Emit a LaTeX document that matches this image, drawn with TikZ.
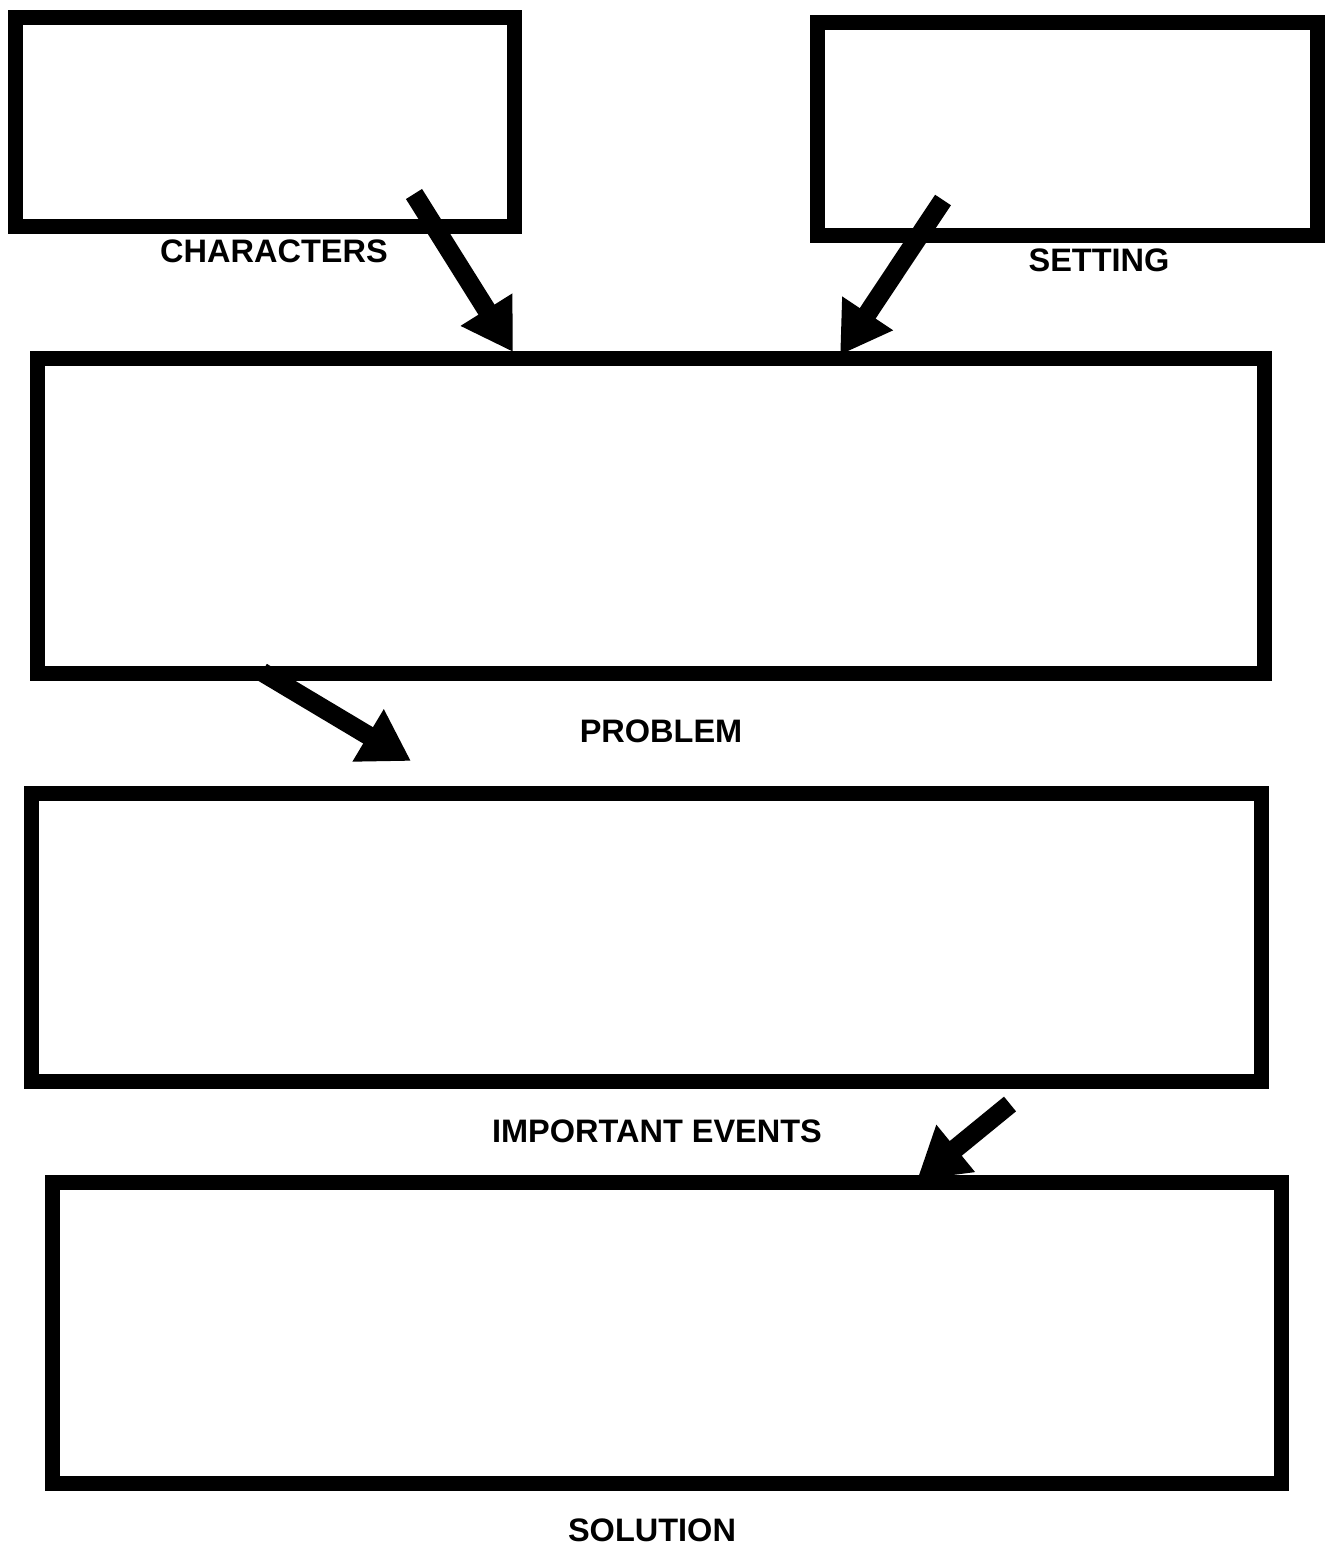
\documentclass[tikz,border=0pt]{standalone}
\usepackage{fontspec}
\setmainfont{Liberation Sans}
\usetikzlibrary{positioning,calc,arrows.meta}

\tikzset{
  box/.style={draw, line width=0.3cm, inner sep=0pt, outer sep=0pt},
  tag/.style={font=\bfseries\fontsize{18.5}{20}\selectfont, inner sep=0pt},
  flow/.style={line width=0.38cm, -{Triangle[length=1.0cm, width=1.15cm]}}
}

\begin{document}
\begin{tikzpicture}[x=0.02cm, y=-0.02cm]
  \useasboundingbox (0,0) rectangle (1331,1547);
  % boxes
  \node[box, minimum width=10cm, minimum height=4.2cm] (characters) at (265,122) {};
  \node[box, minimum width=10.02cm, minimum height=4.28cm] (setting) at (1067.5,129) {};
  \node[box, minimum width=24.56cm, minimum height=6.32cm] (problem) at (651,516) {};
  \node[box, minimum width=24.62cm, minimum height=5.78cm] (events) at (646.5,937.5) {};
  \node[box, minimum width=24.6cm, minimum height=6.04cm] (solution) at (667,1333) {};
  % labels
  \node[tag] (charlabel) at (274,251) {CHARACTERS};
  \node[tag] (setlabel) at (1099,260) {SETTING};
  \node[tag] (problabel) at (661,731) {PROBLEM};
  \node[tag] (evlabel) at (657,1131) {IMPORTANT EVENTS};
  \node[tag] (sollabel) at (652,1530) {SOLUTION};
  % arrows
  \coordinate (c1) at (414,194);
  \coordinate (p1) at (513,352);
  \coordinate (c2) at (943,200);
  \coordinate (p2) at (840,355);
  \coordinate (c3) at (262,672);
  \coordinate (p3) at (411,761);
  \coordinate (c4) at (1010,1104);
  \coordinate (p4) at (917,1180);
  \draw[flow] (c1) -- (p1);
  \draw[flow] (c2) -- (p2);
  \draw[flow] (c3) -- (p3);
  \draw[flow] (c4) -- (p4);
\end{tikzpicture}
\end{document}
